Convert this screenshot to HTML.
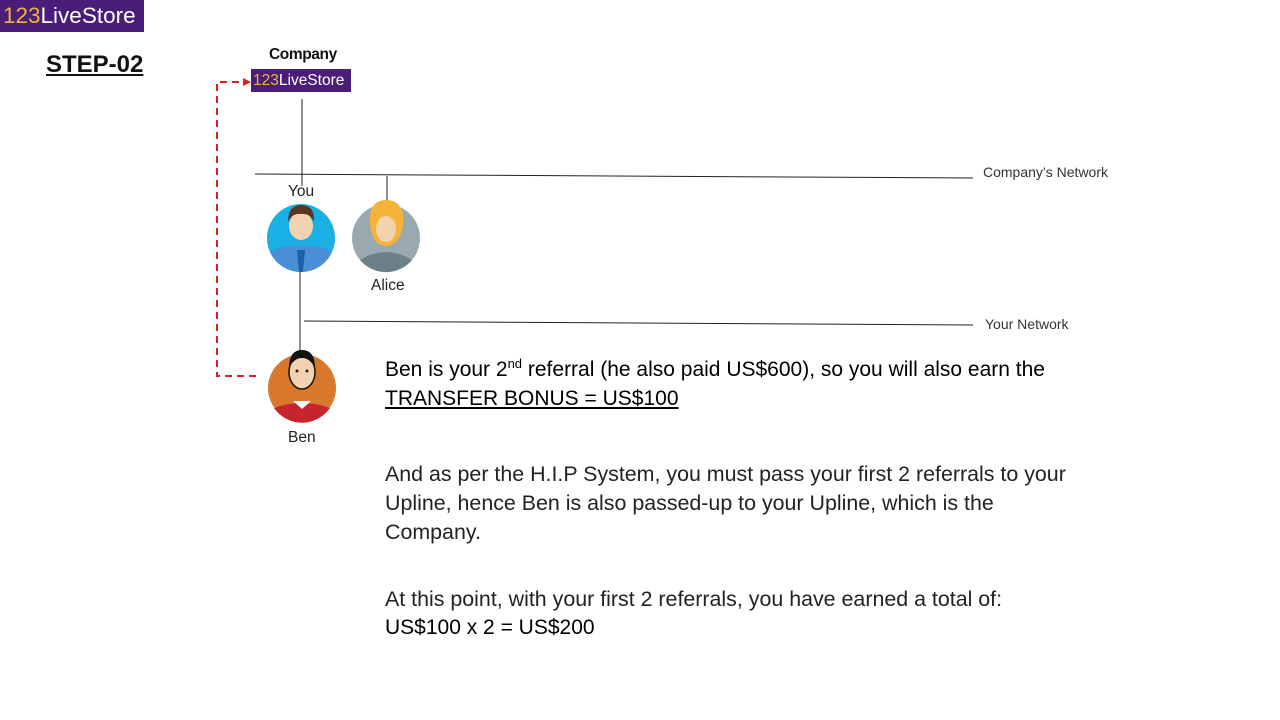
<!DOCTYPE html>
<html><head><meta charset="utf-8"><style>
html,body{margin:0;padding:0;background:#fff;}
body{width:1280px;height:720px;position:relative;overflow:hidden;font-family:"Liberation Sans",sans-serif;color:#111;}
.a{position:absolute;white-space:nowrap;}
.logo{background:#4a1e78;color:#fff;}
.logo b{color:#f0b23a;font-weight:normal;}
.t1{font-size:21px;letter-spacing:0;color:#000;}
.t2{font-size:21.4px;letter-spacing:0;color:#222;}
</style></head><body>
<div class="a logo" style="left:0;top:0;width:144px;height:32px;font-size:22.5px;line-height:32px;text-indent:3px;"><b>123</b>LiveStore</div>
<div class="a" style="left:46px;top:51px;font-size:24px;font-weight:bold;text-decoration:underline;">STEP-02</div>
<div class="a" style="left:269px;top:46px;font-size:15.5px;font-weight:bold;letter-spacing:-0.4px;">Company</div>
<div class="a logo" style="left:251px;top:69px;width:100px;height:23px;font-size:15.5px;line-height:23px;text-indent:2px;"><b>123</b>LiveStore</div>

<svg class="a" style="left:0;top:0" width="1280" height="720">
 <line x1="302" y1="99" x2="302" y2="186" stroke="#222" stroke-width="1"/>
 <line x1="255" y1="174" x2="973" y2="178" stroke="#222" stroke-width="1"/>
 <line x1="387" y1="176" x2="387" y2="202" stroke="#222" stroke-width="1"/>
 <line x1="300" y1="272" x2="300" y2="352" stroke="#222" stroke-width="1"/>
 <line x1="304" y1="321" x2="973" y2="325" stroke="#222" stroke-width="1"/>
 <path d="M256 376 L217 376 L217 82 L244 82" fill="none" stroke="#e02020" stroke-width="2" stroke-dasharray="7,5"/>
 <polygon points="251,82 243,78 243,86" fill="#e02020"/>
 <circle cx="301" cy="238" r="34" fill="#1ab0e6"/>
 <path d="M270 252 Q284 244 301 246 Q318 244 332 252 A34 34 0 0 1 270 252Z" fill="#4a8fd6"/>
 <path d="M297 250 L305 250 L303 272 L299 272Z" fill="#1f5ea8"/>
 <ellipse cx="301" cy="226" rx="12" ry="14" fill="#f2d3b0"/>
 <path d="M288 222 Q288 205 301 205 Q315 205 314 222 Q310 213 301 214 Q292 213 288 222Z" fill="#5a3620"/>
 <circle cx="386" cy="238" r="34" fill="#9aa9b0"/>
 <path d="M360 260 Q386 244 412 260 A34 34 0 0 1 360 260Z" fill="#6b8088"/>
 <path d="M370 225 Q368 200 386 200 Q405 200 403 225 Q400 245 386 246 Q372 245 370 225Z" fill="#f5b33a"/>
 <ellipse cx="386" cy="229" rx="10" ry="13" fill="#f2d3b0"/>
 <circle cx="302" cy="388" r="34" fill="#d9782a"/>
 <path d="M274 408 Q302 398 330 408 A34 34 0 0 1 274 408Z" fill="#c8242e"/>
 <path d="M293 401 L302 409 L311 401Z" fill="#fff"/>
 <ellipse cx="302" cy="372" rx="13" ry="17" fill="#f2d3b0" stroke="#111" stroke-width="1.5"/>
 <path d="M289 368 Q289 350 302 350 Q315 350 315 368 Q310 358 302 358 Q294 358 289 368Z" fill="#111"/>
 <circle cx="297" cy="371" r="1.5" fill="#222"/><circle cx="307" cy="371" r="1.5" fill="#222"/>
</svg>
<div class="a" style="left:288px;top:183px;font-size:15.5px;color:#222;">You</div>
<div class="a" style="left:371px;top:277px;font-size:15.5px;color:#222;">Alice</div>
<div class="a" style="left:288px;top:429px;font-size:15.5px;color:#222;">Ben</div>
<div class="a" style="left:983px;top:164px;font-size:14px;color:#333;">Company’s Network</div>
<div class="a" style="left:985px;top:316px;font-size:14px;color:#333;">Your Network</div>

<div class="a t1" style="left:385px;top:358px;">Ben is your 2<sup style="font-size:13px;vertical-align:8px;line-height:0">nd</sup> referral (he also paid US$600), so you will also earn the</div>
<div class="a t1" style="left:385px;top:387px;text-decoration:underline;">TRANSFER BONUS = US$100</div>
<div class="a t2" style="left:385px;top:462px;">And as per the H.I.P System, you must pass your first 2 referrals to your</div>
<div class="a t2" style="left:385px;top:491px;">Upline, hence Ben is also passed-up to your Upline, which is the</div>
<div class="a t2" style="left:385px;top:520px;">Company.</div>
<div class="a t2" style="left:385px;top:587px;">At this point, with your first 2 referrals, you have earned a total of:</div>
<div class="a t1" style="left:385px;top:616px;">US$100 x 2 = US$200</div>
</body></html>
